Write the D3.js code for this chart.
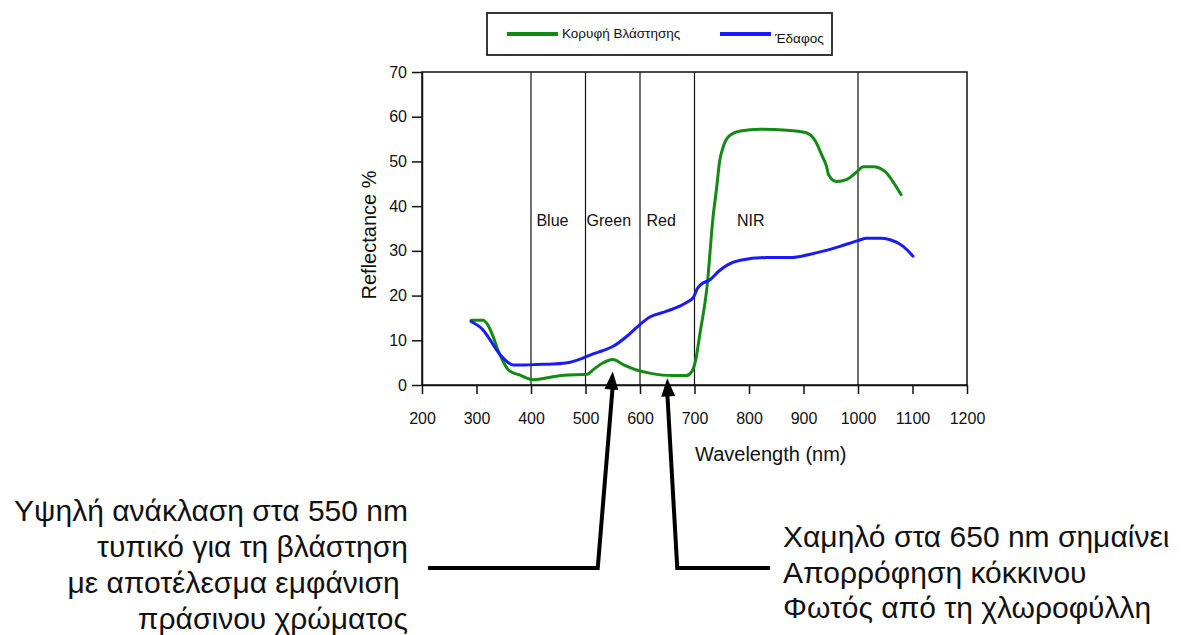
<!DOCTYPE html>
<html>
<head>
<meta charset="utf-8">
<script src="https://cdn.jsdelivr.net/npm/d3@7"></script>
<style>
  body { margin: 0; background: #fff; }
  text { font-family: "Liberation Sans", Arial, sans-serif; fill: #111; }
</style>
</head>
<body>
<script>
var width = 1185;
var height = 635;

// vegetation canopy (green curve)
var vegWave = [290, 312, 321, 330, 340, 350, 360, 380, 404, 460, 503, 515, 530, 550, 570, 595, 620, 660, 685, 695, 702, 710, 723, 734, 741, 746, 752, 762, 784, 820, 870, 905, 922, 935, 942, 946, 960, 980, 998, 1010, 1028, 1050, 1064, 1079];
var vegRefl = [14.5, 14.5, 13.4, 11, 7.6, 5, 3.2, 2.2, 1.2, 2.2, 2.4, 3.5, 4.8, 5.7, 4.5, 3.3, 2.6, 2.1, 2.1, 3.0, 5.5, 11.5, 22, 37.5, 44.5, 50, 53, 55.5, 56.8, 57.2, 57, 56.4, 54.5, 51, 49, 47, 45.5, 46, 47.7, 48.8, 48.8, 47.7, 45.5, 42.6];

// soil (blue curve)
var soilWave = [290, 312, 325, 337, 349, 367, 390, 411, 440, 472, 495, 515, 530, 550, 576, 594, 618, 649, 686, 698, 705, 712, 729, 745, 760, 784, 833, 875, 925, 967, 1000, 1016, 1040, 1059, 1083, 1101];
var soilRefl = [14.2, 12.3, 10.1, 7.8, 6.0, 4.5, 4.5, 4.6, 4.7, 5.1, 6.0, 7.0, 7.6, 8.6, 10.9, 12.9, 15.2, 16.5, 18.5, 19.6, 21.5, 22.5, 23.6, 25.5, 26.8, 27.9, 28.5, 28.5, 29.6, 31, 32.3, 32.8, 32.8, 32.5, 31, 28.8];

var xTicks = [200, 300, 400, 500, 600, 700, 800, 900, 1000, 1100, 1200];
var yTicks = [0, 10, 20, 30, 40, 50, 60, 70];

var bandEdges = [400, 500, 600, 700, 1000];
var bandNames = ['Blue', 'Green', 'Red', 'NIR'];
var bandLabelAt = [410, 502, 612, 778];

var seriesNames = ['Κορυφή Βλάστησης', 'Έδαφος'];
var seriesColors = ['#138a13', '#1a1aff'];

var leftNote = ['Υψηλή ανάκλαση στα 550 nm', 'τυπικό για τη βλάστηση', 'με αποτέλεσμα εμφάνιση ', 'πράσινου χρώματος'];
var rightNote = ['Χαμηλό στα 650 nm σημαίνει', 'Απορρόφηση κόκκινου', 'Φωτός από τη χλωροφύλλη'];
var arrowWave = [550, 650];
var arrowRefl = [3, 1.5];

var plot = { left: 422, right: 967, top: 72, bottom: 385 };

var svg = d3.select('body').append('svg')
    .attr('width', width)
    .attr('height', height);

var x = d3.scaleLinear().domain([200, 1200]).range([plot.left, plot.right]);
var y = d3.scaleLinear().domain([0, 70]).range([plot.bottom, plot.top]);

// frame
svg.append('rect')
    .attr('x', plot.left).attr('y', plot.top)
    .attr('width', plot.right - plot.left).attr('height', plot.bottom - plot.top)
    .attr('fill', 'none').attr('stroke', '#111').attr('stroke-width', 1.5);

// band borders
svg.selectAll('.band')
    .data(bandEdges)
    .enter().append('line')
    .attr('x1', function(d) { return x(d); })
    .attr('x2', function(d) { return x(d); })
    .attr('y1', plot.top).attr('y2', plot.bottom)
    .attr('stroke', '#111').attr('stroke-width', 1.2);

svg.selectAll('.bandLabel')
    .data(bandNames)
    .enter().append('text')
    .attr('x', function(d, i) { return x(bandLabelAt[i]); })
    .attr('y', 226)
    .style('font-size', '16px')
    .text(function(d) { return d; });

// axes
var xAxis = svg.append('g')
    .attr('transform', 'translate(0,' + plot.bottom + ')')
    .call(d3.axisBottom(x).tickValues(xTicks).tickFormat(d3.format('d'))
        .tickSize(9).tickSizeOuter(0).tickPadding(19));
var yAxis = svg.append('g')
    .attr('transform', 'translate(' + plot.left + ',0)')
    .call(d3.axisLeft(y).tickValues(yTicks).tickSize(10).tickSizeOuter(0).tickPadding(5));

[xAxis, yAxis].forEach(function(g) {
    g.selectAll('path, line').attr('stroke', '#111').attr('stroke-width', 1.5);
    g.selectAll('text').style('font-size', '16px')
        .style('font-family', '"Liberation Sans", Arial, sans-serif').attr('fill', '#111');
});

svg.append('text')
    .attr('x', 695).attr('y', 461)
    .style('font-size', '20px')
    .text('Wavelength (nm)');

svg.append('text')
    .attr('transform', 'translate(376,235) rotate(-90)')
    .attr('text-anchor', 'middle')
    .style('font-size', '20px')
    .text('Reflectance %');

// curves
var line = d3.line()
    .x(function(d) { return x(d[0]); })
    .y(function(d) { return y(d[1]); })
    .curve(d3.curveMonotoneX);

var series = [d3.zip(vegWave, vegRefl), d3.zip(soilWave, soilRefl)];

svg.selectAll('.curve')
    .data(series)
    .enter().append('path')
    .attr('d', line)
    .attr('fill', 'none')
    .attr('stroke', function(d, i) { return seriesColors[i]; })
    .attr('stroke-width', 3)
    .attr('stroke-linejoin', 'round')
    .attr('stroke-linecap', 'round');

// legend
svg.append('rect')
    .attr('x', 487).attr('y', 13).attr('width', 345).attr('height', 42)
    .attr('fill', '#fff').attr('stroke', '#222').attr('stroke-width', 1.8);

var legendLineX = [507, 720];
var legendTextY = [38, 43];
seriesNames.forEach(function(name, i) {
    svg.append('line')
        .attr('x1', legendLineX[i]).attr('x2', legendLineX[i] + 51)
        .attr('y1', 34).attr('y2', 34)
        .attr('stroke', seriesColors[i]).attr('stroke-width', 4);
    svg.append('text')
        .attr('x', legendLineX[i] + 55).attr('y', legendTextY[i])
        .style('font-size', '13.5px')
        .text(name);
});

// annotations
var bendY = 568;
var arrowEnds = [428, 770];
arrowWave.forEach(function(w, i) {
    var tx = x(w), ty = y(arrowRefl[i]);
    var bx = i === 0 ? tx - 15 : tx + 10;
    svg.append('path')
        .attr('d', 'M' + arrowEnds[i] + ',' + bendY + 'L' + bx + ',' + bendY + 'L' + tx + ',' + (ty + 14))
        .attr('fill', 'none').attr('stroke', '#000').attr('stroke-width', 4)
        .attr('stroke-linejoin', 'miter');
    var ang = Math.atan2(ty - bendY, tx - bx);
    var len = 18, half = 7;
    var baseX = tx - len * Math.cos(ang), baseY = ty - len * Math.sin(ang);
    var px = -Math.sin(ang) * half, py = Math.cos(ang) * half;
    svg.append('path')
        .attr('d', 'M' + tx + ',' + ty + 'L' + (baseX + px) + ',' + (baseY + py) + 'L' + (baseX - px) + ',' + (baseY - py) + 'Z')
        .attr('fill', '#000');
});

svg.selectAll('.leftNote')
    .data(leftNote)
    .enter().append('text')
    .attr('x', 408)
    .attr('y', function(d, i) { return 521 + i * 36; })
    .attr('text-anchor', 'end')
    .style('font-size', '30px')
    .style('white-space', 'pre')
    .text(function(d) { return d; });

svg.selectAll('.rightNote')
    .data(rightNote)
    .enter().append('text')
    .attr('x', 783)
    .attr('y', function(d, i) { return 547 + i * 35.5; })
    .style('font-size', '30px')
    .text(function(d) { return d; });
</script>
</body>
</html>
